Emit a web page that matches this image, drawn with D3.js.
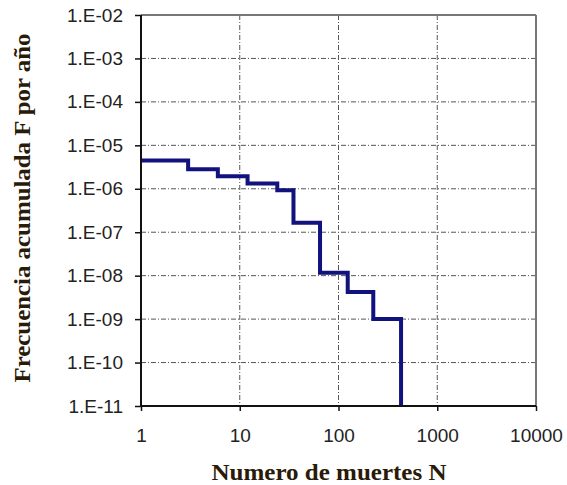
<!DOCTYPE html>
<html><head><meta charset="utf-8">
<script src="https://cdn.jsdelivr.net/npm/d3@7"></script>
<style>body{margin:0;background:#fff;} svg{display:block;}</style>
</head><body>
<svg id="c" width="567" height="485"></svg>
<script>
// Step data: N (number of deaths) where each level starts, and cumulative frequency F
const stepN = [1, 3, 6, 12, 24, 35, 65, 124, 225, 430];
const stepF = [4.5e-6, 2.8e-6, 1.95e-6, 1.33e-6, 9.2e-7, 1.65e-7, 1.17e-8, 4.2e-9, 1.0e-9, 1e-11];
const xTicks = [1, 10, 100, 1000, 10000];
const xTickLabels = ["1", "10", "100", "1000", "10000"];
const yTicks = [1e-2, 1e-3, 1e-4, 1e-5, 1e-6, 1e-7, 1e-8, 1e-9, 1e-10, 1e-11];
const yTickLabels = ["1.E-02","1.E-03","1.E-04","1.E-05","1.E-06","1.E-07","1.E-08","1.E-09","1.E-10","1.E-11"];

const svg = d3.select("#c");
const L = 141, R = 536, T = 15, B = 406;
const x = d3.scaleLog().domain([1, 10000]).range([L, R]);
const y = d3.scaleLog().domain([1e-11, 1e-2]).range([B, T]);

// grid
const g = svg.append("g");
g.selectAll("line.hg").data(yTicks.slice(1, -1)).enter().append("line")
  .attr("x1", L).attr("x2", R).attr("y1", d => y(d)).attr("y2", d => y(d))
  .attr("stroke", "#555").attr("stroke-width", 1).attr("stroke-dasharray", "5,2,1,2");
g.selectAll("line.vg").data(xTicks.slice(1, -1)).enter().append("line")
  .attr("y1", T).attr("y2", B).attr("x1", d => x(d)).attr("x2", d => x(d))
  .attr("stroke", "#555").attr("stroke-width", 1).attr("stroke-dasharray", "5,2,1,2");

// top/right border (gray)
svg.append("line").attr("x1", L).attr("x2", R).attr("y1", T).attr("y2", T).attr("stroke", "#777").attr("stroke-width", 2);
svg.append("line").attr("x1", R).attr("x2", R).attr("y1", T).attr("y2", B).attr("stroke", "#777").attr("stroke-width", 2);

// step line
const pts = [];
for (let i = 0; i < stepN.length; i++) {
  pts.push([stepN[i], stepF[i]]);
  if (i + 1 < stepN.length) pts.push([stepN[i + 1], stepF[i]]);
}
const line = d3.line().x(d => x(d[0])).y(d => y(d[1]));
svg.append("path").datum(pts).attr("d", line).attr("fill", "none")
  .attr("stroke", "#12127e").attr("stroke-width", 4).attr("stroke-linejoin", "miter").attr("stroke-linecap", "butt");

// axes
const yAxis = d3.axisLeft(y).tickValues(yTicks).tickFormat((d, i) => yTickLabels[i]).tickSize(6).tickPadding(12);
const ya = svg.append("g").attr("transform", `translate(${L},0)`).call(yAxis);
const xAxis = d3.axisBottom(x).tickValues(xTicks).tickFormat((d, i) => xTickLabels[i]).tickSize(5).tickPadding(18);
const xa = svg.append("g").attr("transform", `translate(0,${B})`).call(xAxis);
[ya, xa].forEach(a => {
  a.select(".domain").attr("stroke", "#111").attr("stroke-width", 2);
  a.selectAll(".tick line").attr("stroke", "#111").attr("stroke-width", 1.5);
  a.selectAll(".tick text").attr("font-family", "Liberation Sans, Arial, sans-serif").attr("font-size", 19).attr("fill", "#222");
});
ya.select(".domain").attr("d", `M0,${B}V${T}`);
xa.select(".domain").attr("d", `M${L},0H${R}`);

// titles
svg.append("text").attr("x", 329).attr("y", 480).attr("text-anchor", "middle")
  .attr("font-family", "Liberation Serif, Times New Roman, serif").attr("font-weight", "bold")
  .attr("font-size", 23).attr("fill", "#2a1a08")
  .attr("textLength", 235).attr("lengthAdjust", "spacingAndGlyphs")
  .text("Numero de muertes N");
svg.append("text").attr("transform", "translate(30,208) rotate(-90)").attr("text-anchor", "middle")
  .attr("font-family", "Liberation Serif, Times New Roman, serif").attr("font-weight", "bold")
  .attr("font-size", 23).attr("fill", "#2a1a08")
  .attr("textLength", 349).attr("lengthAdjust", "spacingAndGlyphs")
  .text("Frecuencia acumulada F por año");
</script>
</body></html>
